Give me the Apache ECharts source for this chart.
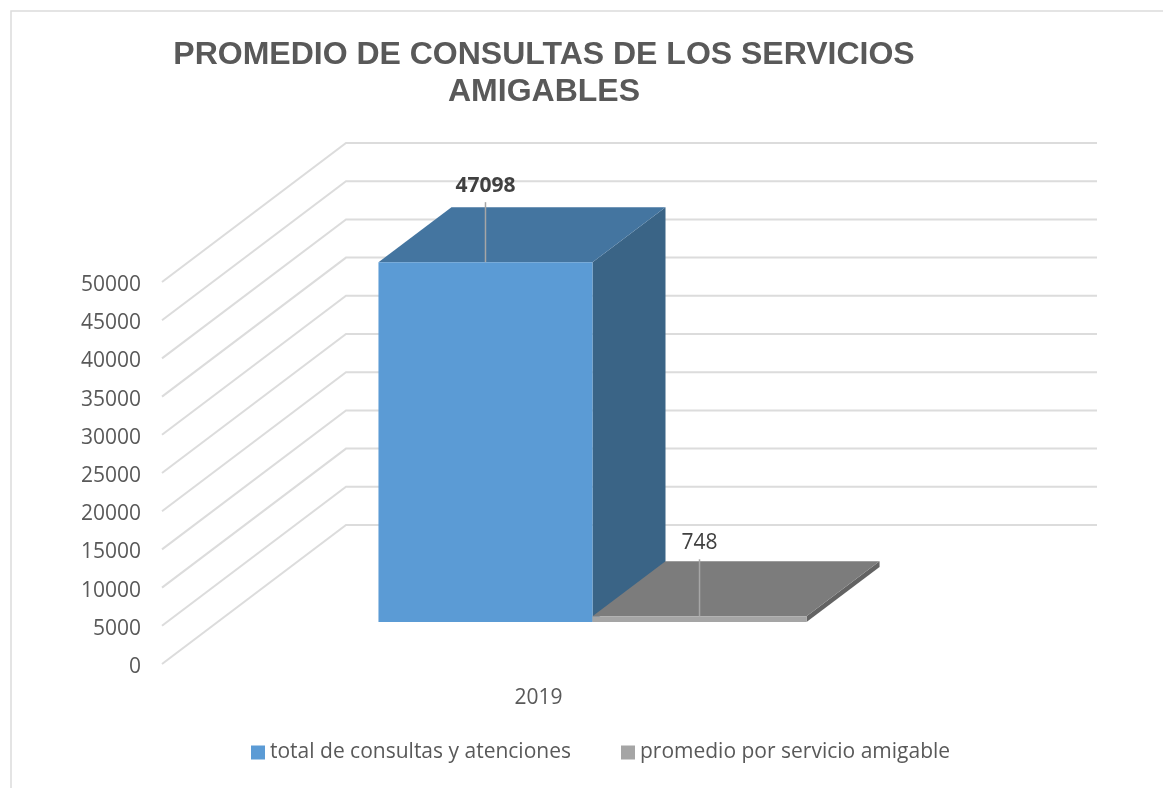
<!DOCTYPE html>
<html><head><meta charset="utf-8">
<style>html,body{margin:0;padding:0;background:#fff}#c{width:1163px;height:788px}</style>
<script src="https://cdn.jsdelivr.net/npm/echarts@6/dist/echarts.min.js"></script>
</head><body><div id="c"></div>
<script>
const categories = ['2019'];
const seriesNames = ['total de consultas y atenciones', 'promedio por servicio amigable'];
const totalConsultas = [47098];
const promedioServicio = [748];
const yTicks = [0,5000,10000,15000,20000,25000,30000,35000,40000,45000,50000];

const WALL = {dx:184, dy:-139, width:751};
const PLANE = {dx:55, dy:-42};
const DEPTH = {dx:73, dy:-55};
const BAR_SHARE = 0.285;
const TXT = '#595959', GRIDC = '#DCDCDC';
const FONT = 'Open Sans';

function gridItem(params, api){
  const c = api.coord([0, api.value(0)]);
  const x0 = params.coordSys.x;
  return {type:'polyline', silent:true,
    shape:{points:[[x0,c[1]],[x0+WALL.dx,c[1]+WALL.dy],[x0+WALL.dx+WALL.width,c[1]+WALL.dy]]},
    style:{fill:null, stroke:GRIDC, lineWidth:2}};
}
function barItem(slot, colors, labelWeight, leader){
  return function(params, api){
    const v = api.value(1);
    const top = api.coord([api.value(0), v]);
    const base = api.coord([api.value(0), 0]);
    const w = api.size([1,0])[0]*BAR_SHARE;
    const x1 = top[0] + slot*w + PLANE.dx, x2 = x1 + w;
    const yT = top[1] + PLANE.dy, yB = base[1] + PLANE.dy;
    const mid = (x1+x2)/2;
    return {type:'group', children:[
      {type:'polygon', shape:{points:[[x2,yT],[x2+DEPTH.dx,yT+DEPTH.dy],[x2+DEPTH.dx,yB+DEPTH.dy],[x2,yB]]}, style:{fill:colors[2]}},
      {type:'polygon', shape:{points:[[x1,yT],[x1+DEPTH.dx,yT+DEPTH.dy],[x2+DEPTH.dx,yT+DEPTH.dy],[x2,yT]]}, style:{fill:colors[1]}},
      {type:'rect', shape:{x:x1,y:yT,width:w,height:yB-yT}, style:{fill:colors[0]}},
      {type:'line', shape:{x1:mid,y1:yT,x2:mid,y2:yT-leader}, style:{stroke:'#A6A6A6',lineWidth:1.5}},
      {type:'text', style:{text:String(v), x:mid, y:yT-leader-16, align:'center', verticalAlign:'middle',
        font:labelWeight+' 21px '+FONT, fill:'#404040'}}
    ]};
  };
}
const chart = echarts.init(document.getElementById('c'), null, {renderer:'canvas'});
chart.setOption({
  animation:false,
  backgroundColor:'#fff',
  title:{text:'PROMEDIO DE CONSULTAS DE LOS SERVICIOS\nAMIGABLES', left:539, top:32, textAlign:'center',
    textStyle:{fontFamily:'Liberation Sans', fontWeight:'bold', fontSize:32, lineHeight:37, color:TXT}},
  grid:{left:162, top:282, width:751, height:382},
  legend:{data:seriesNames, left:246, top:737, icon:'rect', itemWidth:14, itemHeight:14, itemGap:50, selectedMode:false,
    textStyle:{fontFamily:FONT, fontSize:21, color:TXT, padding:[0,0,0,0]}},
  xAxis:{type:'category', data:categories, axisLine:{show:false}, axisTick:{show:false},
    axisLabel:{fontFamily:FONT, fontSize:21, color:TXT, margin:24, padding:[0,0,0,2]}},
  yAxis:{type:'value', min:0, max:50000, interval:5000, axisLine:{show:false}, axisTick:{show:false}, splitLine:{show:false},
    axisLabel:{fontFamily:FONT, fontSize:21, color:TXT, margin:21, verticalAlign:'top', lineHeight:6, formatter:v=>String(v)}},
  graphic:[{type:'polyline', silent:true, shape:{points:[[11,788],[11,11],[1163,11]]}, style:{fill:null, stroke:GRIDC, lineWidth:1.5}}],
  series:[
    {type:'custom', name:'grid', silent:true, data:yTicks.map(t=>[t]), encode:{y:0}, renderItem:gridItem, z:1},
    {type:'custom', name:seriesNames[0], data:categories.map((c,i)=>[c,totalConsultas[i]]), encode:{x:0,y:1},
      itemStyle:{color:'#5B9BD5'}, renderItem:barItem(-1,['#5B9BD5','#4475A0','#3A6486'],'bold',60), z:2},
    {type:'custom', name:seriesNames[1], data:categories.map((c,i)=>[c,promedioServicio[i]]), encode:{x:0,y:1},
      itemStyle:{color:'#A5A5A5'}, renderItem:barItem(0,['#A5A5A5','#7C7C7C','#636363'],'normal',57), z:3}
  ]
});
</script></body></html>
